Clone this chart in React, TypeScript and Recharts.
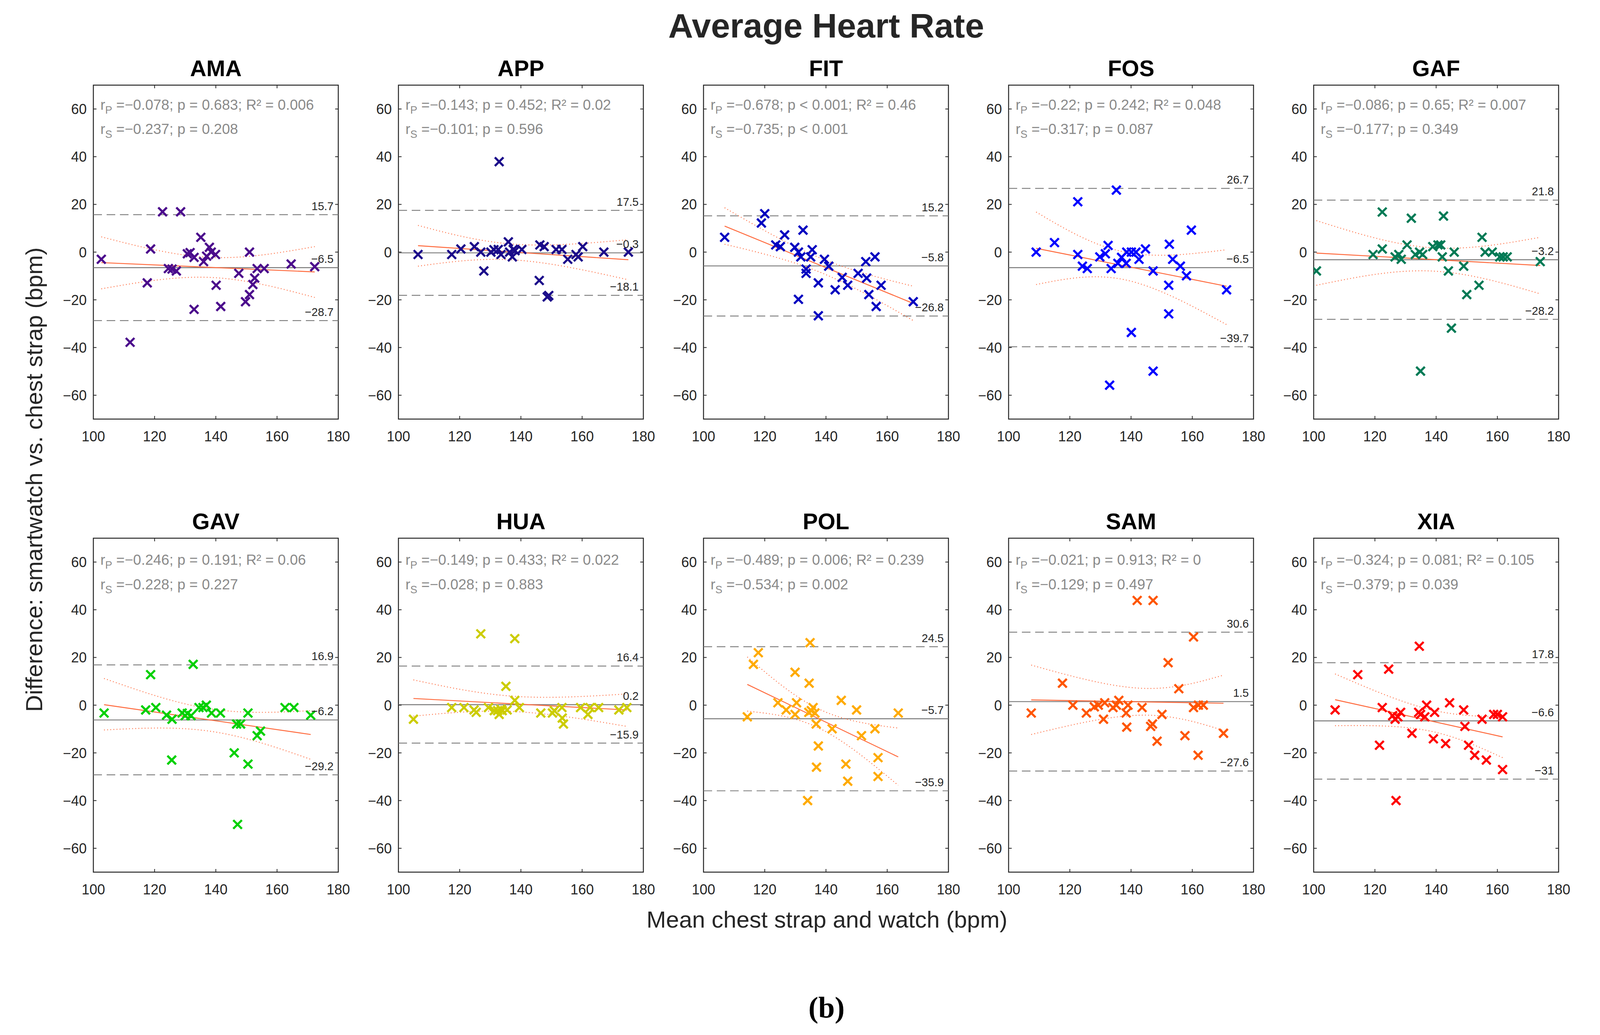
import React from "react";
import {
  ComposedChart,
  Scatter,
  XAxis,
  YAxis,
  ReferenceLine,
  ReferenceArea,
} from "recharts";

// ---------- data ----------
const devices = ["AMA", "APP", "FIT", "FOS", "GAF", "GAV", "HUA", "POL", "SAM", "XIA"];
const markerColors = [
  "#4B0C8C", "#1B0C8A", "#0000C0", "#0000FF", "#007A55",
  "#00D000", "#CCCC00", "#FFAA00", "#FF5500", "#FF0000",
];

const meanBias = [-6.5, -0.3, -5.8, -6.5, -3.2, -6.2, 0.2, -5.7, 1.5, -6.6];
const upperLoA = [15.7, 17.5, 15.2, 26.7, 21.8, 16.9, 16.4, 24.5, 30.6, 17.8];
const lowerLoA = [-28.7, -18.1, -26.8, -39.7, -28.2, -29.2, -15.9, -35.9, -27.6, -31];

const pearsonText = [
  "−0.078; p = 0.683; R² = 0.006",
  "−0.143; p = 0.452; R² = 0.02",
  "−0.678; p < 0.001; R² = 0.46",
  "−0.22; p = 0.242; R² = 0.048",
  "−0.086; p = 0.65; R² = 0.007",
  "−0.246; p = 0.191; R² = 0.06",
  "−0.149; p = 0.433; R² = 0.022",
  "−0.489; p = 0.006; R² = 0.239",
  "−0.021; p = 0.913; R² = 0",
  "−0.324; p = 0.081; R² = 0.105",
];
const spearmanText = [
  "−0.237; p = 0.208",
  "−0.101; p = 0.596",
  "−0.735; p < 0.001",
  "−0.317; p = 0.087",
  "−0.177; p = 0.349",
  "−0.228; p = 0.227",
  "−0.028; p = 0.883",
  "−0.534; p = 0.002",
  "−0.129; p = 0.497",
  "−0.379; p = 0.039",
];

const xTicks = [100, 120, 140, 160, 180];
const yTicks = [-60, -40, -20, 0, 20, 40, 60];

// [mean of both devices, difference]
const amaPoints = [
  [102.6, -3.0], [112.0, -37.8], [117.6, -12.9], [118.7, 1.3], [122.6, 16.9], [128.5, 16.9],
  [124.5, -6.9], [125.7, -7.1], [127.1, -7.9], [130.7, -0.7], [131.6, -0.2], [132.9, -2.2],
  [132.9, -24.0], [135.1, 6.2], [136.0, -4.0], [137.0, -1.7], [137.9, 2.0], [138.5, 0],
  [139.9, -1.0], [140.1, -13.9], [141.6, -22.8], [147.5, -8.9], [149.7, -20.8], [151.0, -17.8],
  [151.0, 0], [152.1, -13.6], [152.7, -10.9], [153.5, -6.9], [155.8, -6.9], [164.6, -5.0],
  [172.3, -6.1],
];
const appPoints = [
  [106.4, -1.0], [117.4, -1.0], [120.4, 1.3], [124.8, 2.3], [126.9, 0], [127.9, -7.9],
  [130.2, 0], [131.2, 1.0], [132.6, 1.1], [132.9, 37.9], [133.5, -1.0], [135.9, 4.3],
  [136.3, 0], [137.2, -2.0], [137.5, 1.1], [138.1, 0.6], [140.3, 1.1], [146.0, -11.9],
  [146.2, 3.0], [147.6, 2.3], [148.6, -18.8], [149.1, -18.2], [151.5, 1.1], [153.4, 1.1],
  [155.3, -3.0], [158.0, -1.0], [158.7, -2.0], [160.2, 2.3], [167.1, 0], [175.1, 0],
];
const fitPoints = [
  [106.9, 6.2], [118.9, 12.2], [120.0, 16.1], [123.6, 3.0], [125.1, 2.3], [126.5, 7.2],
  [129.8, 2.0], [131.0, 0], [131.8, -2.0], [131.0, -19.8], [132.5, 9.2], [133.5, -7.1],
  [133.5, -8.9], [135.0, -2.0], [135.5, 1.0], [137.5, -12.9], [137.5, -26.7], [139.5, -3.0],
  [140.9, -5.9], [143.0, -15.8], [145.3, -10.6], [147.1, -13.9], [150.5, -8.9], [153.0, -4.0],
  [153.3, -10.9], [154.0, -17.8], [156.0, -2.0], [156.4, -22.8], [158.0, -13.9], [168.5, -20.8],
];
const fosPoints = [
  [109.0, 0], [115.0, 4.0], [122.6, 21.1], [122.6, -1.0], [124.1, -5.9], [125.7, -6.9],
  [129.8, -2.0], [131.6, -0.7], [132.5, 2.8], [133.0, -55.8], [133.5, -6.9], [135.2, 26.0],
  [135.7, -4.7], [136.9, -2.2], [138.4, -4.7], [138.6, 0], [140.1, 0], [140.1, -33.7],
  [141.6, 0], [142.6, -3.0], [144.7, 1.3], [147.2, -7.9], [147.2, -49.9], [152.3, -13.9],
  [152.3, -25.9], [152.5, 3.3], [153.6, -3.0], [156.1, -5.9], [158.1, -9.9], [159.7, 9.2],
  [171.2, -15.8],
];
const gafPoints = [
  [100.9, -7.9], [119.4, -1.0], [122.4, 16.8], [122.4, 1.3], [126.6, -2.0], [127.8, -1.0],
  [128.6, -3.0], [130.5, 3.0], [131.9, 14.2], [133.2, -1.0], [134.6, 0], [134.9, -49.9],
  [135.6, -1.0], [138.9, 2.3], [140.6, 3.0], [141.5, 3.0], [142.0, -2.0], [142.4, 15.1],
  [144.0, -7.9], [145.0, -31.9], [145.9, 0], [149.0, -5.9], [150.0, -17.8], [154.0, -13.9],
  [155.0, 6.2], [156.0, 0], [158.3, 0], [160.8, -2.0], [161.9, -2.0], [163.2, -2.0],
  [174.0, -4.0],
];
const gavPoints = [
  [103.5, -3.3], [117.1, -2.0], [118.7, 12.8], [120.4, -1.0], [123.9, -4.2], [125.7, -5.9],
  [125.6, -23.0], [129.0, -3.3], [130.0, -4.4], [130.7, -3.5], [131.9, -4.4], [132.6, 17.1],
  [134.5, -1.0], [135.8, -1.0], [136.9, 0], [138.6, -3.3], [141.5, -3.3], [146.0, -20.0],
  [146.8, -7.9], [148.1, -7.9], [147.1, -50.0], [150.5, -3.3], [150.5, -24.7], [153.5, -12.8],
  [154.6, -10.9], [162.6, -1.0], [165.5, -1.0], [171.0, -4.2],
];
const huaPoints = [
  [104.9, -5.9], [117.4, -1.0], [121.4, -1.0], [124.7, -2.0], [125.4, -3.0], [126.9, 29.9],
  [129.4, -1.0], [131.3, -2.3], [132.4, -2.3], [132.9, -3.9], [133.5, -1.7], [133.9, -2.3],
  [135.1, 7.9], [135.5, -2.0], [138.0, 27.9], [138.0, 2.0], [139.5, -1.0], [146.5, -3.3],
  [150.3, -3.3], [150.9, -2.3], [153.4, -1.0], [153.5, -5.4], [153.9, -7.9], [159.5, -1.0],
  [161.9, -3.9], [162.6, -1.0], [165.4, -1.0], [172.0, -2.0], [174.6, -1.0],
];
const polPoints = [
  [114.3, -4.9], [116.3, 17.1], [117.9, 22.0], [124.3, 1.0], [127.0, -2.0], [129.9, 13.8],
  [129.9, -3.9], [130.4, 1.0], [134.0, -40.0], [134.5, 9.2], [134.4, -3.0], [134.8, 26.2],
  [135.2, -2.3], [135.8, -1.0], [136.4, -3.3], [136.8, -7.9], [136.9, -26.0], [137.5, -17.1],
  [142.0, -9.9], [145.0, 2.0], [146.5, -24.7], [147.1, -31.9], [150.0, -2.0], [151.6, -12.8],
  [156.0, -9.9], [157.0, -22.0], [157.0, -29.9], [163.6, -3.3],
];
const samPoints = [
  [107.4, -3.3], [117.6, 9.2], [121.0, 0], [125.4, -3.3], [128.0, -0.7], [129.3, 0],
  [131.0, -5.9], [131.4, 1.0], [134.1, -1.0], [135.2, 0], [136.0, 2.0], [138.4, -3.3],
  [138.6, -9.2], [139.0, 0], [142.0, 43.9], [143.6, -1.0], [146.4, -8.9], [147.0, -7.9],
  [147.2, 43.9], [148.5, -15.1], [150.1, -3.9], [152.1, 17.8], [155.6, 6.9], [157.6, -12.8],
  [160.4, 28.6], [160.4, -1.0], [161.9, -21.0], [162.0, 0], [163.6, 0], [170.2, -11.8],
];
const xiaPoints = [
  [107.0, -2.0], [114.4, 12.8], [121.5, -16.8], [122.4, -1.0], [124.5, 15.1], [125.8, -4.4],
  [126.6, -5.9], [126.9, -40.0], [127.5, -4.9], [128.4, -3.0], [132.1, -11.8], [134.3, -3.0],
  [134.5, 24.7], [134.9, -3.9], [136.3, -4.9], [136.9, 0], [139.1, -14.1], [139.5, -3.0],
  [143.1, -16.1], [144.4, 1.0], [149.0, -2.0], [149.4, -8.9], [150.6, -16.8], [152.6, -21.0],
  [155.0, -5.9], [156.4, -23.0], [158.8, -3.9], [160.0, -3.9], [161.7, -4.9], [161.7, -27.0],
];
const pointSets = [
  amaPoints, appPoints, fitPoints, fosPoints, gafPoints,
  gavPoints, huaPoints, polPoints, samPoints, xiaPoints,
];

// regression line end points
const fitLines = [
  [[102.6, -4.4], [172.3, -8.3]],
  [[106.4, 2.7], [175.1, -3.2]],
  [[106.9, 10.9], [168.5, -21.5]],
  [[109.0, 1.6], [171.2, -14.3]],
  [[100.9, -0.4], [174.0, -5.6]],
  [[103.5, 0.2], [171.0, -12.3]],
  [[104.9, 2.8], [174.6, -2.0]],
  [[114.3, 8.7], [163.6, -21.7]],
  [[107.4, 2.2], [170.2, 0.8]],
  [[107.0, 2.3], [161.7, -13.3]],
];
// confidence band of the regression (start, middle, end)
const ciUpper = [
  [[102.6, 6.4], [138, -2.2], [172.3, 2.3]],
  [[106.4, 11.2], [138, 3.3], [175.1, 5.2]],
  [[106.9, 18.6], [138, -2.4], [168.5, -14.3]],
  [[109.0, 16.8], [138, 0.0], [171.2, 1.0]],
  [[100.9, 13.2], [138, 1.9], [174.0, 6.2]],
  [[103.5, 11.2], [138, -1.5], [171.0, -2.3]],
  [[104.9, 10.6], [138, 3.7], [174.6, 4.7]],
  [[114.3, 20.2], [138, -1.8], [163.6, -9.6]],
  [[107.4, 16.8], [143, 7.1], [170.2, 12.6]],
  [[107.0, 13.1], [137, -1.5], [161.7, -4.9]],
];
const ciLower = [
  [[102.6, -15.4], [138, -10.6], [172.3, -19.0]],
  [[106.4, -5.9], [138, -3.3], [175.1, -11.6]],
  [[106.9, 3.3], [138, -8.4], [168.5, -28.7]],
  [[109.0, -13.6], [138, -11.6], [171.2, -30.4]],
  [[100.9, -13.9], [138, -7.9], [174.0, -17.5]],
  [[103.5, -10.4], [138, -10.9], [171.0, -22.7]],
  [[104.9, -4.6], [138, -2.7], [174.6, -8.9]],
  [[114.3, -2.5], [138, -9.8], [163.6, -33.6]],
  [[107.4, -12.3], [143, -4.2], [170.2, -10.6]],
  [[107.0, -8.6], [137, -10.6], [161.7, -22.0]],
];

// ---------- layout ----------
const PLOT_W = 627;
const PLOT_H = 855;
const COL_LEFT = [239, 1020, 1801, 2582, 3363];
const ROW_TOP = [218, 1378];
const AX_L = 110;
const AX_B = 80;
const PAD_T = 20;
const PAD_R = 60;
const TICK = 8;
const FONT = "'Liberation Sans', Arial, Helvetica, sans-serif";
const FRAME = "#262626";
const FIT_COLOR = "#FF6A3D";

const fmt = (v: number) => String(v).replace("-", "−");
const toXY = (arr: number[][]) => arr.map(([x, y]) => ({ x, y }));

const XTick = (props: any) => {
  const { x, y, payload } = props;
  return (
    <g>
      <line x1={x} y1={y} x2={x} y2={y - TICK} stroke={FRAME} strokeWidth={2} />
      <line x1={x} y1={y - PLOT_H} x2={x} y2={y - PLOT_H + TICK} stroke={FRAME} strokeWidth={2} />
      <text x={x} y={y + 57} textAnchor="middle" fontSize={36} fill={FRAME} fontFamily={FONT}>
        {fmt(payload.value)}
      </text>
    </g>
  );
};

const YTick = (props: any) => {
  const { x, y, payload } = props;
  return (
    <g>
      <line x1={x} y1={y} x2={x + TICK} y2={y} stroke={FRAME} strokeWidth={2} />
      <line x1={x + PLOT_W} y1={y} x2={x + PLOT_W - TICK} y2={y} stroke={FRAME} strokeWidth={2} />
      <text x={x - 17} y={y + 13} textAnchor="end" fontSize={36} fill={FRAME} fontFamily={FONT}>
        {fmt(payload.value)}
      </text>
    </g>
  );
};

const Cross = ({ cx, cy, color }: { cx: number; cy: number; color: string }) => {
  const s = 11;
  return (
    <path
      d={`M${cx - s},${cy - s}L${cx + s},${cy + s}M${cx - s},${cy + s}L${cx + s},${cy - s}`}
      stroke={color}
      strokeWidth={5.5}
      fill="none"
    />
  );
};

const limitLabel = (v: number) => ({
  value: fmt(v),
  position: "insideBottomRight" as const,
  offset: 12,
  fontSize: 29,
  fill: FRAME,
  fontFamily: FONT,
});

function Panel({ i }: { i: number }) {
  const col = i % 5;
  const row = Math.floor(i / 5);
  const color = markerColors[i];
  return (
    <div
      style={{
        position: "absolute",
        left: COL_LEFT[col] - AX_L,
        top: ROW_TOP[row] - PAD_T,
      }}
    >
      <ComposedChart
        width={AX_L + PLOT_W + PAD_R}
        height={PAD_T + PLOT_H + AX_B}
        margin={{ top: PAD_T, right: PAD_R, bottom: 0, left: 0 }}
      >
        <XAxis
          type="number"
          dataKey="x"
          domain={[100, 180]}
          ticks={xTicks}
          interval={0}
          allowDataOverflow
          tickSize={0}
          tickMargin={0}
          tickLine={false}
          axisLine={false}
          height={AX_B}
          tick={XTick}
        />
        <YAxis
          type="number"
          dataKey="y"
          domain={[-70, 70]}
          ticks={yTicks}
          interval={0}
          allowDataOverflow
          tickSize={0}
          tickMargin={0}
          tickLine={false}
          axisLine={false}
          width={AX_L}
          tick={YTick}
        />
        <ReferenceLine
          y={upperLoA[i]}
          stroke="#7a7a7a"
          strokeWidth={2.2}
          strokeDasharray="22 12"
          label={limitLabel(upperLoA[i])}
        />
        <ReferenceLine
          y={lowerLoA[i]}
          stroke="#7a7a7a"
          strokeWidth={2.2}
          strokeDasharray="22 12"
          label={limitLabel(lowerLoA[i])}
        />
        <ReferenceLine
          y={meanBias[i]}
          stroke="#7a7a7a"
          strokeWidth={2.4}
          label={limitLabel(meanBias[i])}
        />
        <Scatter
          data={toXY(ciUpper[i])}
          line={{ stroke: FIT_COLOR, strokeWidth: 2.4, strokeDasharray: "2 6" }}
          lineJointType="natural"
          shape={() => <g />}
          isAnimationActive={false}
        />
        <Scatter
          data={toXY(ciLower[i])}
          line={{ stroke: FIT_COLOR, strokeWidth: 2.4, strokeDasharray: "2 6" }}
          lineJointType="natural"
          shape={() => <g />}
          isAnimationActive={false}
        />
        <Scatter
          data={toXY(fitLines[i])}
          line={{ stroke: FIT_COLOR, strokeWidth: 2.4 }}
          shape={() => <g />}
          isAnimationActive={false}
        />
        <Scatter
          data={toXY(pointSets[i])}
          fill={color}
          shape={(p: any) => <Cross cx={p.cx} cy={p.cy} color={color} />}
          isAnimationActive={false}
        />
        <ReferenceArea
          x1={100}
          x2={180}
          y1={-70}
          y2={70}
          fill="none"
          fillOpacity={0}
          stroke={FRAME}
          strokeWidth={2.5}
        />
      </ComposedChart>
    </div>
  );
}

function Labels() {
  return (
    <svg
      width={4108}
      height={2650}
      style={{ position: "absolute", left: 0, top: 0, pointerEvents: "none" }}
      fontFamily={FONT}
    >
      <text x={2115} y={96} textAnchor="middle" fontSize={88} fontWeight="bold" fill={FRAME}>
        Average Heart Rate
      </text>
      {devices.map((d, i) => {
        const col = i % 5;
        const row = Math.floor(i / 5);
        const left = COL_LEFT[col];
        const top = ROW_TOP[row];
        const l1 = top + (row === 0 ? 63 : 68);
        const l2 = top + (row === 0 ? 125 : 131);
        return (
          <g key={d}>
            <text x={left + PLOT_W / 2} y={top - 23} textAnchor="middle" fontSize={58} fontWeight="bold" fill="#000">
              {d}
            </text>
            <text x={left + 18} y={l1} fontSize={37} fill="#8a8a8a">
              <tspan>r</tspan>
              <tspan fontSize={27} dy={10}>P</tspan>
              <tspan dy={-10}>{" =" + pearsonText[i]}</tspan>
            </text>
            <text x={left + 18} y={l2} fontSize={37} fill="#8a8a8a">
              <tspan>r</tspan>
              <tspan fontSize={27} dy={10}>S</tspan>
              <tspan dy={-10}>{" =" + spearmanText[i]}</tspan>
            </text>
          </g>
        );
      })}
      <text
        transform="translate(108,1228) rotate(-90)"
        textAnchor="middle"
        fontSize={60}
        fill={FRAME}
      >
        Difference: smartwatch vs. chest strap (bpm)
      </text>
      <text x={2117} y={2375} textAnchor="middle" fontSize={60} fill={FRAME}>
        Mean chest strap and watch (bpm)
      </text>
      <text
        x={2116}
        y={2605}
        textAnchor="middle"
        fontSize={76}
        fontWeight="bold"
        fill="#000"
        fontFamily="'Liberation Serif', 'Times New Roman', serif"
      >
        (b)
      </text>
    </svg>
  );
}

export default function App() {
  return (
    <div
      style={{
        position: "absolute",
        left: 0,
        top: 0,
        width: 4108,
        height: 2650,
        background: "#fff",
        overflow: "hidden",
      }}
    >
      {devices.map((d, i) => (
        <Panel key={d} i={i} />
      ))}
      <Labels />
    </div>
  );
}
